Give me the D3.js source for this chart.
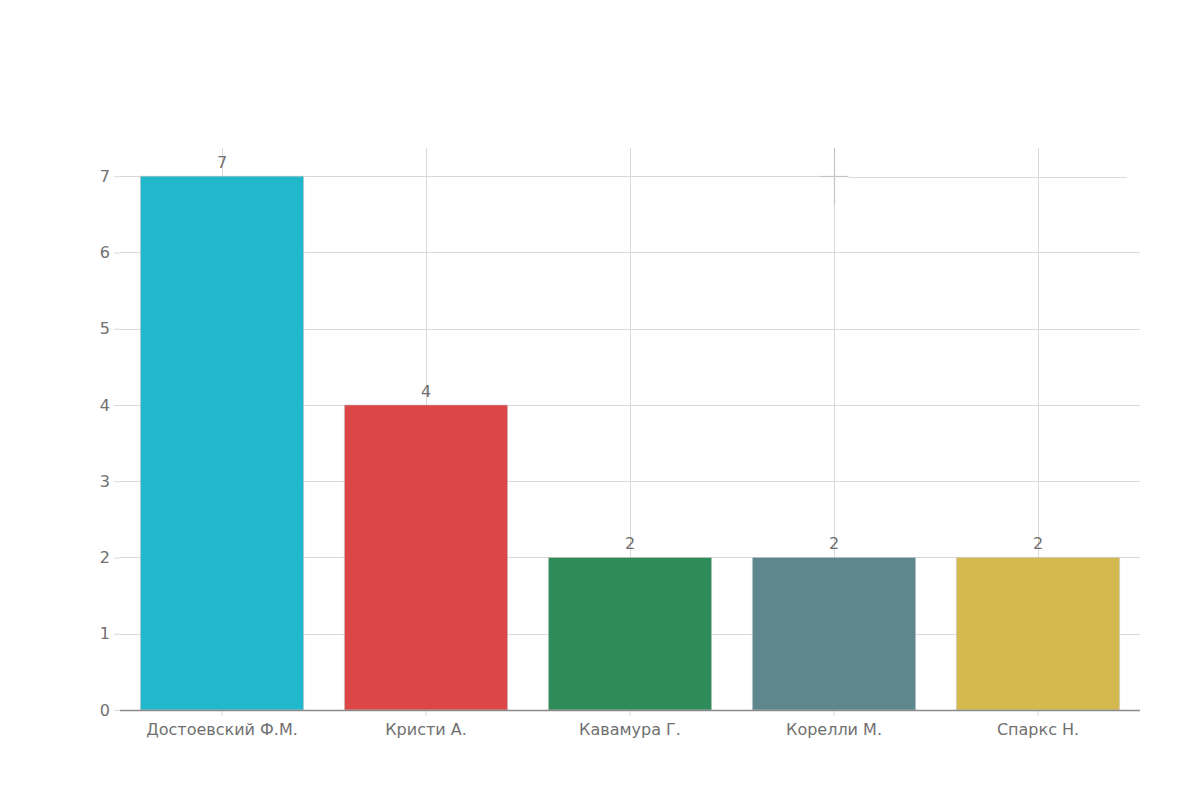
<!DOCTYPE html>
<html><head><meta charset="utf-8">
<script src="https://cdn.jsdelivr.net/npm/d3@7"></script>
<style>body{margin:0;background:#fff;} svg{display:block;}</style>
</head><body>
<svg id="chart" width="1200" height="800"></svg>
<script>
const categories = ["Достоевский Ф.М.", "Кристи А.", "Кавамура Г.", "Корелли М.", "Спаркс Н."];
const values = [7, 4, 2, 2, 2];
const colors = ["#22b8cc", "#dc4647", "#2e8b5a", "#5d878d", "#d3b94e"];
const yTicks = [0, 1, 2, 3, 4, 5, 6, 7];

(function () {
const svg = d3.select("#chart");
const mLeft = 120, mRight = 1140, mTop = 148, mBottom = 710;
const font = "DejaVu Sans, Verdana, sans-serif";
const txt = "#707070";

const x = d3.scaleBand().domain(categories).range([mLeft, mRight]).paddingInner(0.2).paddingOuter(0.1);
const y = d3.scaleLinear().domain([0, 7.37]).range([mBottom, mTop]);
const cx = Math.round(x(categories[3]) + x.bandwidth() / 2) + 0.5;

// horizontal gridlines (top one is split by the crosshair, right part offset)
svg.append("g").selectAll("line").data(yTicks.filter(d => d > 0 && d < 7)).join("line")
  .attr("x1", mLeft).attr("x2", mRight)
  .attr("y1", d => Math.round(y(d)) + 0.5).attr("y2", d => Math.round(y(d)) + 0.5)
  .attr("stroke", "#d9d9d9").attr("stroke-width", 1);
const y7 = Math.round(y(7)) + 0.5;
svg.append("line").attr("x1", mLeft).attr("x2", cx).attr("y1", y7).attr("y2", y7)
  .attr("stroke", "#d9d9d9").attr("stroke-width", 1);
svg.append("line").attr("x1", cx + 14).attr("x2", mRight - 13).attr("y1", y7 + 1).attr("y2", y7 + 1)
  .attr("stroke", "#d9d9d9").attr("stroke-width", 1);

// vertical gridlines at category centers
svg.append("g").selectAll("line").data(categories).join("line")
  .attr("x1", d => Math.round(x(d) + x.bandwidth() / 2) + 0.5)
  .attr("x2", d => Math.round(x(d) + x.bandwidth() / 2) + 0.5)
  .attr("y1", mTop).attr("y2", mBottom)
  .attr("stroke", "#d9d9d9").attr("stroke-width", 1);

// crosshair artifact near Корелли
svg.append("line").attr("x1", cx).attr("x2", cx).attr("y1", mTop).attr("y2", y(6.63))
  .attr("stroke", "#c4c4c4").attr("stroke-width", 1.2);
svg.append("line").attr("x1", cx - 15).attr("x2", cx + 14).attr("y1", y7).attr("y2", y7)
  .attr("stroke", "#c4c4c4").attr("stroke-width", 1.2);

// bars
svg.append("g").selectAll("rect").data(values).join("rect")
  .attr("x", (d, i) => x(categories[i]))
  .attr("width", x.bandwidth())
  .attr("y", d => y(d))
  .attr("height", d => y(0) - y(d))
  .attr("fill", (d, i) => colors[i])
  .attr("stroke", "rgba(200,200,200,0.6)").attr("stroke-width", 1);

// value labels
svg.append("g").selectAll("text").data(values).join("text")
  .attr("x", (d, i) => x(categories[i]) + x.bandwidth() / 2)
  .attr("y", d => y(d) - 8)
  .attr("text-anchor", "middle")
  .attr("font-family", font).attr("font-size", 16).attr("fill", txt)
  .text(d => d);

// y axis
const yAxis = d3.axisLeft(y).tickValues(yTicks).tickSize(6).tickPadding(4).tickFormat(d3.format("d"));
const gy = svg.append("g").attr("transform", `translate(${mLeft},0)`).call(yAxis);
gy.select(".domain").remove();
gy.selectAll(".tick line").attr("stroke", "#d9d9d9");
gy.selectAll(".tick text").attr("font-family", font).attr("font-size", 16).attr("fill", txt);

// x axis
const xAxis = d3.axisBottom(x).tickSize(6).tickPadding(6);
const gx = svg.append("g").attr("transform", `translate(0,${mBottom})`).call(xAxis);
gx.select(".domain").remove();
gx.selectAll(".tick line").attr("stroke", "#d9d9d9");
gx.selectAll(".tick text").attr("font-family", font).attr("font-size", 16).attr("fill", txt).attr("dy", "0.8em");
svg.append("line").attr("x1", mLeft).attr("x2", mRight).attr("y1", mBottom + 0.5).attr("y2", mBottom + 0.5)
  .attr("stroke", "#8a8a8a").attr("stroke-width", 1.5);
})();
</script>
</body></html>
